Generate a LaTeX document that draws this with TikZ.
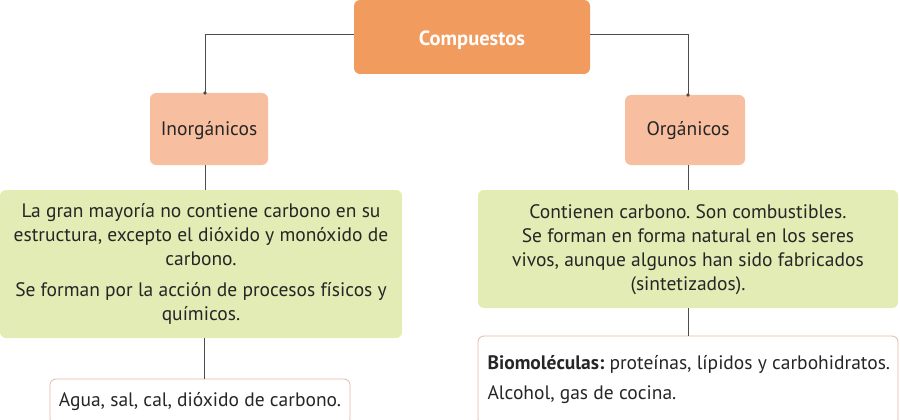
\documentclass[tikz,border=0pt]{standalone}
\usepackage{fontspec}
\setmainfont{PT Sans}
\frenchspacing
\begin{document}
\begin{tikzpicture}[x=1pt,y=-1pt,
  line/.style={draw=black!70,line width=0.8pt},
  box/.style={rounded corners=6pt,draw=none},
  txt/.style={align=center,font=\fontsize{19.5}{24}\selectfont,text=black!85}]
\useasboundingbox (0,0) rectangle (900,420);
\definecolor{org}{HTML}{F29B5E}
\definecolor{pch}{HTML}{F7BFA0}
\definecolor{grn}{HTML}{E2ECB4}
\definecolor{brd}{HTML}{E5B9A0}
\fill[org,box] (354,0) rectangle (590,74);
\node (c) at (472,40) {\fontsize{20.5}{24}\selectfont\bfseries\color{white}Compuestos};
\coordinate (cl) at (354,34); \coordinate (cr) at (590,34);
\fill[pch,box] (150,93) rectangle (268,165);
\node[txt] (i) at (209,131) {Inorgánicos};
\coordinate (it) at (205,93); \coordinate (ib) at (205,165);
\fill[pch,box] (625,95) rectangle (745,165);
\node[txt] (o) at (688,131) {Orgánicos};
\coordinate (ot) at (688,95); \coordinate (ob) at (688,165);
\fill[grn,box] (0,190) rectangle (402,338);
\node[txt] (gl) at (201,264) {La gran mayoría no contiene carbono en su\\ estructura, excepto el dióxido y monóxido de\\ carbono.\\[7pt] Se forman por la acción de procesos físicos y\\ químicos.};
\coordinate (glt) at (205,190); \coordinate (glb) at (204,338);
\fill[grn,box] (478,190) rectangle (898,308);
\node[txt] (gr) at (688,250) {Contienen carbono. Son combustibles.\\ Se forman en forma natural en los seres\\ vivos, aunque algunos han sido fabricados\\ (sintetizados).};
\coordinate (grt) at (688,190); \coordinate (grb) at (688,308);
\draw[brd,line width=0.8pt,rounded corners=6pt] (50,379) rectangle (350,425);
\node[txt] (bl) at (200,402) {Agua, sal, cal, dióxido de carbono.};
\coordinate (blt) at (204,379);
\draw[brd,line width=0.8pt,rounded corners=6pt] (478,336) rectangle (898,425);
\node[txt,anchor=west,align=left] (br) at (484,380) {\textbf{Biomoléculas:} proteínas, lípidos y carbohidratos.\\[6pt] Alcohol, gas de cocina.};
\coordinate (brt) at (688,336);
\draw[line] (cl) -| (it); \fill[black!70] (it) circle (1.8pt);
\draw[line] (cr) -| (ot); \fill[black!70] (ot) circle (1.8pt);
\draw[line] (ib) -- (glt);
\draw[line] (ob) -- (grt);
\draw[line] (glb) -- (blt);
\draw[line] (grb) -- (brt);
\end{tikzpicture}
\end{document}
